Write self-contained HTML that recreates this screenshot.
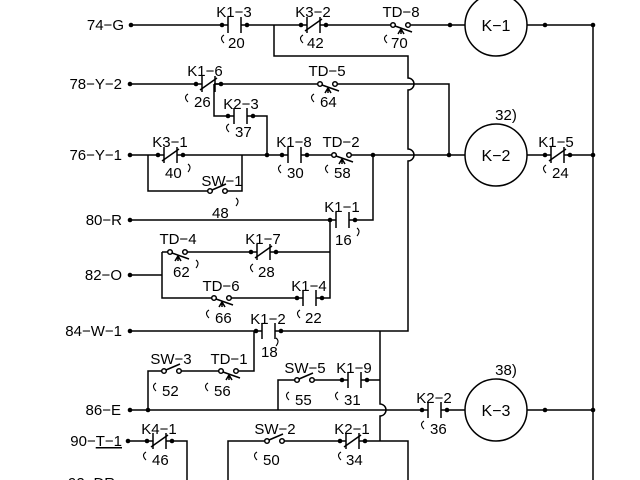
<!DOCTYPE html>
<html><head><meta charset="utf-8"><style>
html,body{margin:0;padding:0;background:#fff;width:640px;height:480px;overflow:hidden}
svg{display:block}
text{font-family:"Liberation Sans",sans-serif;font-size:15px;fill:#000}
.c{text-anchor:middle}.r{text-anchor:end}
</style></head><body>
<svg width="640" height="480" viewBox="0 0 640 480" xmlns="http://www.w3.org/2000/svg">
<defs>
<g id="no"><line x1="0" y1="0" x2="6" y2="0"/><line x1="6" y1="-8" x2="6" y2="8"/><line x1="19" y1="-8" x2="19" y2="8"/><line x1="19" y1="0" x2="25" y2="0"/><circle cx="0" cy="0" r="2.3" fill="#000" stroke="none"/><circle cx="25" cy="0" r="2.3" fill="#000" stroke="none"/></g>
<g id="nc"><line x1="0" y1="0" x2="6" y2="0"/><line x1="6" y1="-8" x2="6" y2="8"/><line x1="19" y1="-8" x2="19" y2="8"/><line x1="19" y1="0" x2="25" y2="0"/><line x1="4" y1="6" x2="21" y2="-6"/><circle cx="0" cy="0" r="2.3" fill="#000" stroke="none"/><circle cx="25" cy="0" r="2.3" fill="#000" stroke="none"/></g>
<g id="sw"><circle cx="0" cy="0" r="2.3" fill="#fff"/><circle cx="15" cy="0" r="2.3" fill="#fff"/><line x1="2" y1="-1" x2="16" y2="-7"/></g>
<g id="td"><circle cx="0" cy="0" r="2.3" fill="#fff"/><circle cx="15" cy="0" r="2.3" fill="#fff"/><line x1="2" y1="1" x2="19" y2="7"/><path d="M5 9 L8 4 L11 9 M8 4 V9" fill="none"/></g>
</defs>
<g stroke="#000" stroke-width="1.5" fill="none">
<path d="M131 25H222M247 25H301M326 25H391M411 25H465M527 25H593V480"/>
<path d="M274 25V56H408V78A6 6 0 0 1 408 90V149A6 6 0 0 1 408 161V331H281"/>
<path d="M130 84H196M214 84H318M336 84H449V155"/>
<path d="M214 84V116H228M252 116H267V155"/>
<path d="M130 155H158M183 155H282M148 155V191H208M227 191H242V155"/>
<path d="M307 155H332M351 155H465M527 155H545M567 155H593"/>
<path d="M373 155V220H354"/>
<path d="M130 220H330M330 220V298H322M330 252H276"/>
<path d="M162 252H168M187 252H251M130 275H162M162 252V298H212M231 298H296"/>
<path d="M130 331H256"/>
<path d="M254 331V371H239M219 371H181M162 371H148V410"/>
<path d="M278 410V380H295M315 380H342M366 380H380"/>
<path d="M380 331V404A6 6 0 0 1 380 416V441"/>
<path d="M130 410H424M445 410H465M527 410H593"/>
<path d="M128 441H147M171 441H187V480"/>
<path d="M228 480V441H265M284 441H340M364 441H408V480"/>
<use href="#no" x="222" y="25"/><use href="#nc" x="301" y="25"/><use href="#td" x="393" y="25"/>
<use href="#nc" x="196" y="84"/><use href="#td" x="320" y="84"/>
<use href="#no" x="228" y="116"/>
<use href="#nc" x="158" y="155"/><use href="#sw" x="210" y="191"/>
<use href="#no" x="282" y="155"/><use href="#td" x="334" y="155"/>
<use href="#nc" x="545" y="155"/>
<use href="#no" x="330" y="220"/>
<use href="#td" x="170" y="252"/><use href="#nc" x="251" y="252"/>
<use href="#td" x="214" y="298"/><use href="#no" x="297" y="298"/>
<use href="#no" x="256" y="331"/>
<use href="#sw" x="164" y="371"/><use href="#td" x="221" y="371"/>
<use href="#sw" x="297" y="380"/><use href="#no" x="342" y="380"/>
<use href="#no" x="422" y="410"/>
<use href="#nc" x="147" y="441"/>
<use href="#sw" x="267" y="441"/><use href="#nc" x="340" y="441"/>
<circle cx="496" cy="25" r="31"/><circle cx="496" cy="155" r="31"/><circle cx="496" cy="410" r="31"/>
<path d="M224 35q-5 3 0 8M303 35q-5 3 0 8M387 35q-5 3 0 8M188 94q-5 3 0 8M314 94q-5 3 0 8M229 124q-5 3 0 8M281 165q-5 3 0 8M328 165q-5 3 0 8M546 165q-5 3 0 8M253 264q-5 3 0 8M209 310q-5 3 0 8M300 310q-5 3 0 8M156 383q-5 3 0 8M208 383q-5 3 0 8M289 392q-5 3 0 8M338 392q-5 3 0 8M424 421q-5 3 0 8M146 452q-5 3 0 8M257 452q-5 3 0 8M341 452q-5 3 0 8" stroke-width="1.1"/>
<path d="M188 164q4 3 0 8M236 198q4 3 0 8M357 228q4 3 0 8M196 260q4 3 0 8M276 338q4 3 0 8" stroke-width="1.1"/>
</g>
<g fill="#000">
<circle cx="131" cy="25" r="2.3"/><circle cx="450" cy="25" r="2.3"/><circle cx="545" cy="25" r="2.3"/><circle cx="593" cy="25" r="2.3"/>
<circle cx="130" cy="84" r="2.3"/><circle cx="130" cy="155" r="2.3"/><circle cx="267" cy="155" r="2.3"/><circle cx="373" cy="155" r="2.3"/><circle cx="449" cy="155" r="2.3"/><circle cx="593" cy="155" r="2.3"/>
<circle cx="130" cy="220" r="2.3"/><circle cx="130" cy="275" r="2.3"/><circle cx="130" cy="331" r="2.3"/>
<circle cx="130" cy="410" r="2.3"/><circle cx="148" cy="410" r="2.3"/><circle cx="545" cy="410" r="2.3"/><circle cx="593" cy="410" r="2.3"/>
<circle cx="128" cy="441" r="2.3"/>
</g>
<text class="r" x="124" y="30">74−G</text>
<text class="r" x="122" y="89">78−Y−2</text>
<text class="r" x="122" y="160">76−Y−1</text>
<text class="r" x="122" y="225">80−R</text>
<text class="r" x="122" y="280">82−O</text>
<text class="r" x="122" y="336">84−W−1</text>
<text class="r" x="121" y="415">86−E</text>
<text class="r" x="122" y="446">90−<tspan text-decoration="underline">T−1</tspan></text>
<text x="68" y="488">92−DR</text>
<text class="c" x="234" y="17">K1−3</text><text class="c" x="313" y="17">K3−2</text><text class="c" x="401" y="17">TD−8</text>
<text class="c" x="496" y="31" style="font-size:16px">K−1</text>
<text class="c" x="205" y="76">K1−6</text><text class="c" x="327" y="76">TD−5</text>
<text class="c" x="241" y="109">K2−3</text>
<text class="c" x="170" y="147">K3−1</text><text class="c" x="294" y="147">K1−8</text><text class="c" x="341" y="147">TD−2</text>
<text class="c" x="222" y="186">SW−1</text>
<text class="c" x="556" y="147">K1−5</text><text class="c" x="506" y="120">32)</text>
<text class="c" x="496" y="161" style="font-size:16px">K−2</text>
<text class="c" x="342" y="212">K1−1</text>
<text class="c" x="178" y="244">TD−4</text><text class="c" x="263" y="244">K1−7</text>
<text class="c" x="221" y="291">TD−6</text><text class="c" x="309" y="291">K1−4</text>
<text class="c" x="268" y="324">K1−2</text>
<text class="c" x="171" y="364">SW−3</text><text class="c" x="229" y="364">TD−1</text>
<text class="c" x="305" y="373">SW−5</text><text class="c" x="354" y="373">K1−9</text>
<text class="c" x="434" y="403">K2−2</text><text class="c" x="506" y="375">38)</text>
<text class="c" x="496" y="416" style="font-size:16px">K−3</text>
<text class="c" x="159" y="434">K4−1</text><text class="c" x="275" y="434">SW−2</text><text class="c" x="352" y="434">K2−1</text>
<text class="c" x="263" y="490">SW−4</text><text class="c" x="360" y="490">TD−3</text>
<text x="228" y="48">20</text><text x="307" y="48">42</text><text x="391" y="48">70</text>
<text x="194" y="107">26</text><text x="320" y="107">64</text><text x="235" y="137">37</text>
<text x="165" y="178">40</text><text x="287" y="178">30</text><text x="334" y="178">58</text><text x="552" y="178">24</text>
<text x="212" y="218">48</text><text x="335" y="245">16</text>
<text x="173" y="277">62</text><text x="258" y="277">28</text>
<text x="215" y="323">66</text><text x="305" y="323">22</text><text x="261" y="357">18</text>
<text x="162" y="396">52</text><text x="214" y="396">56</text>
<text x="295" y="405">55</text><text x="344" y="405">31</text><text x="430" y="434">36</text>
<text x="152" y="465">46</text><text x="263" y="465">50</text><text x="346" y="465">34</text>
</svg>
</body></html>
